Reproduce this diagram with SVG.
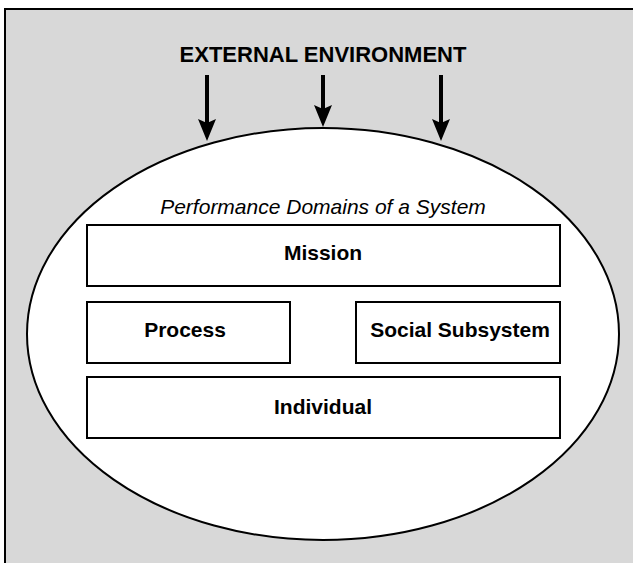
<svg xmlns="http://www.w3.org/2000/svg" width="633" height="563" viewBox="0 0 633 563">
  <style>
    .box { fill: #ffffff; stroke: #000000; stroke-width: 2; }
    .lbl { font-family: "Liberation Sans", Arial, sans-serif; font-weight: bold; font-size: 21px; fill: #000000; text-anchor: middle; }
    .title { font-family: "Liberation Sans", Arial, sans-serif; font-weight: bold; font-size: 22px; fill: #000000; text-anchor: middle; }
    .sub { font-family: "Liberation Sans", Arial, sans-serif; font-style: italic; font-size: 21px; fill: #000000; text-anchor: middle; }
    .arrow { stroke: #000000; stroke-width: 4; fill: none; }
  </style>
  <defs>
    <marker id="head" markerUnits="userSpaceOnUse" markerWidth="22" markerHeight="18" refX="10" refY="9" orient="auto" viewBox="0 0 22 18">
      <path d="M0,0 L22,9 L0,18 L4,9 Z" fill="#000000"/>
    </marker>
  </defs>
  <rect x="0" y="0" width="633" height="563" fill="#ffffff"/>
  <g id="environment">
    <rect x="5" y="9" width="640" height="570" fill="#d8d8d8" stroke="#000000" stroke-width="2"/>
    <text class="title" x="323" y="62">EXTERNAL ENVIRONMENT</text>
  </g>
  <g id="system">
    <ellipse cx="323" cy="334" rx="296" ry="206" fill="#ffffff" stroke="#000000" stroke-width="2"/>
    <text class="sub" x="323" y="214">Performance Domains of a System</text>
  </g>
  <g id="mission">
    <rect class="box" x="87" y="225" width="473" height="61"/>
    <text class="lbl" x="323" y="260">Mission</text>
  </g>
  <g id="process">
    <rect class="box" x="87" y="302" width="203" height="61"/>
    <text class="lbl" x="185" y="337">Process</text>
  </g>
  <g id="social-subsystem">
    <rect class="box" x="356" y="302" width="204" height="61"/>
    <text class="lbl" x="460" y="337">Social Subsystem</text>
  </g>
  <g id="individual">
    <rect class="box" x="87" y="377" width="473" height="61"/>
    <text class="lbl" x="323" y="414">Individual</text>
  </g>
  <g id="connectors">
    <line class="arrow" x1="207" y1="75" x2="207" y2="129" marker-end="url(#head)"/>
    <line class="arrow" x1="323" y1="75" x2="323" y2="115" marker-end="url(#head)"/>
    <line class="arrow" x1="441" y1="75" x2="441" y2="129" marker-end="url(#head)"/>
  </g>
</svg>
